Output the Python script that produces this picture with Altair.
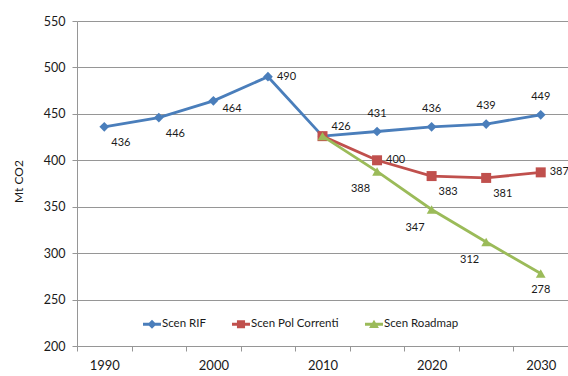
import altair as alt
import pandas as pd

# --- data -------------------------------------------------------------
years = [1990, 1995, 2000, 2005, 2010, 2015, 2020, 2025, 2030]
series_names = ["Scen RIF", "Scen Pol Correnti", "Scen Roadmap"]
series_colors = ["#4A7EBB", "#C0504D", "#9BBB59"]

rif = [436, 446, 464, 490, 426, 431, 436, 439, 449]
pol_correnti = [None, None, None, None, 426, 400, 383, 381, 387]
roadmap = [None, None, None, None, 426, 388, 347, 312, 278]

# side of the point on which each value label is written
rif_side = ["below-right", "below-right", "right-low", "right", "above-right",
            "above", "above", "above", "above"]
pol_side = [None, None, None, None, "none", "right", "below-right", "below-right", "right"]
road_side = [None, None, None, None, "none", "below-left", "below-left", "below-left", "below"]

rows = []
for name, vals, sides in zip(series_names, [rif, pol_correnti, roadmap],
                             [rif_side, pol_side, road_side]):
    for yr, v, s in zip(years, vals, sides):
        if v is not None:
            rows.append({"year": yr, "series": name, "value": v, "side": s})
df = pd.DataFrame(rows)

# --- styling ----------------------------------------------------------
FONT = "Lato"
GRID = "#969696"
TEXT = "#1a1a1a"

label_places = {
    "below-right": dict(align="left", dx=7, dy=16),
    "right-low": dict(align="left", dx=9, dy=8),
    "right": dict(align="left", dx=9, dy=0),
    "above-right": dict(align="left", dx=9, dy=-9),
    "above": dict(align="center", dx=0, dy=-18),
    "below-left": dict(align="right", dx=-7, dy=18),
    "below": dict(align="center", dx=0, dy=16),
}

marker_shapes = ["diamond", "square", "triangle-up"]
marker_sizes = [95, 100, 95]
# legend keys: a short bar with the series marker on it (filled outlines only)
BAR = "M-1,-0.16L1,-0.16L1,0.16L-1,0.16Z"
legend_paths = [
    BAR + "M0,-0.5L0.5,0L0,0.5L-0.5,0Z",
    BAR + "M-0.45,-0.45L0.45,-0.45L0.45,0.45L-0.45,0.45Z",
    BAR + "M0,-0.5L0.55,0.42L-0.55,0.42Z",
]

x_enc = alt.X(
    "year:O",
    scale=alt.Scale(type="band", paddingInner=0, paddingOuter=0),
    bandPosition=0.5,
    axis=alt.Axis(
        title=None,
        grid=False,
        tickBand="extent",
        labelExpr="datum.value % 10 == 0 ? datum.label : ''",
        labelAngle=0,
        tickSize=5,
        tickColor=GRID,
        domainColor=GRID,
        labelFont=FONT,
        labelFontSize=13,
        labelColor=TEXT,
        labelPadding=8,
    ),
)

y_enc = alt.Y(
    "value:Q",
    scale=alt.Scale(domain=[200, 550], nice=False, zero=False),
    axis=alt.Axis(
        values=list(range(200, 551, 50)),
        title="Mt CO2",
        titleFont=FONT,
        titleFontSize=12,
        titleFontWeight="normal",
        titleColor=TEXT,
        titleX=-59,
        titleY=160,
        titleAlign="center",
        titleBaseline="middle",
        grid=True,
        gridColor=GRID,
        gridWidth=1,
        tickSize=5,
        tickColor=GRID,
        domainColor=GRID,
        labelFont=FONT,
        labelFontSize=12.5,
        labelColor=TEXT,
        labelPadding=7,
    ),
)

legend = alt.Legend(
    title=None,
    orient="none",
    legendX=66,
    legendY=294,
    direction="horizontal",
    symbolSize=324,
    symbolStrokeWidth=0,
    labelFont=FONT,
    labelFontSize=11.5,
    labelColor=TEXT,
    labelOffset=1,
    columnPadding=26,
)

color_enc = alt.Color("series:N", scale=alt.Scale(domain=series_names, range=series_colors),
                      legend=legend)
base = alt.Chart(df)

layers = []
for name, shape, size in zip(series_names, marker_shapes, marker_sizes):
    sub = base.transform_filter(alt.datum.series == name)
    layers.append(
        sub.mark_line(strokeWidth=2.8).encode(x=x_enc, y=y_enc, color=color_enc)
    )
    layers.append(
        sub.mark_point(shape=shape, size=size, filled=True, opacity=1).encode(
            x=x_enc, y=y_enc, color=color_enc)
    )

for side, opts in label_places.items():
    layers.append(
        base.transform_filter(alt.datum.side == side)
        .mark_text(font=FONT, fontSize=11, color=TEXT, baseline="middle", **opts)
        .encode(x=x_enc, y=y_enc, text=alt.Text("value:Q"))
    )

# legend-only layer: no rows reach it, its entries come from the fixed scale domains
layers.append(
    base.transform_filter(alt.datum.year < 0)
    .mark_point(filled=True)
    .encode(
        x=x_enc, y=y_enc,
        color=color_enc,
        shape=alt.Shape("series:N", scale=alt.Scale(domain=series_names, range=legend_paths),
                        legend=legend),
    )
)

chart = (
    alt.layer(*layers)
    .properties(
        width=491,
        height=325,
        autosize=alt.AutoSizeParams(type="none"),
        padding={"left": 77, "top": 21, "right": 0, "bottom": 30},
        background="white",
    )
    .configure_view(stroke=None)
)

chart.save("out.html", embed_options={"renderer": "svg", "actions": False})
